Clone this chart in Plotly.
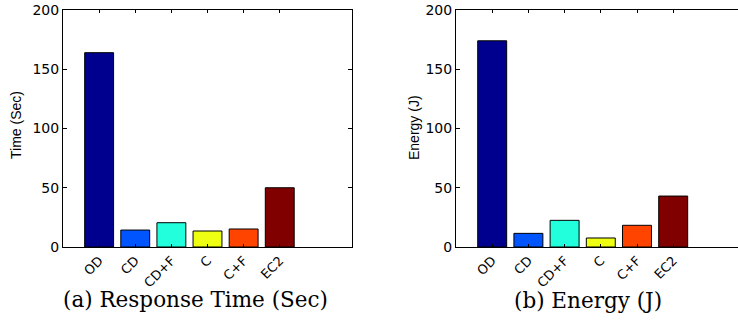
import plotly.graph_objects as go

categories = ["OD", "CD", "CD+F", "C", "C+F", "EC2"]
time_sec = [164, 14.3, 20.5, 13.5, 15.2, 50]
energy_j = [174, 11.5, 22.5, 7.6, 18.3, 43]
bar_colors = ["#00008F", "#0055FF", "#22FFDD", "#EEFF11", "#FF4400", "#800000"]
yticks = [0, 50, 100, 150, 200]
positions = [1, 2, 3, 4, 5, 6]

W, H = 738, 320


def px(x):
    return x / W


def py(y):
    return 1 - y / H


fig = go.Figure()
fig.add_trace(go.Bar(x=positions, y=time_sec, width=0.8, marker=dict(color=bar_colors, line=dict(color="black", width=1)),
                     xaxis="x", yaxis="y", showlegend=False))
fig.add_trace(go.Bar(x=positions, y=energy_j, width=0.8, marker=dict(color=bar_colors, line=dict(color="black", width=1)),
                     xaxis="x2", yaxis="y2", showlegend=False))

tickfont = dict(family="DejaVu Sans", size=14, color="black")
ydom = [py(247), py(10)]
common_x = dict(tickvals=positions, ticktext=categories, tickangle=-45, ticks="inside", ticklen=3,
                showline=True, linecolor="black", linewidth=1, showgrid=False, zeroline=False, automargin=False,
                tickfont=dict(family="DejaVu Sans", size=13, color="black"), tickcolor="black")
common_y = dict(range=[0, 200], tickvals=yticks, ticks="inside", ticklen=4, showline=True, linecolor="black",
                linewidth=1, showgrid=False, zeroline=False, tickfont=tickfont, tickcolor="black", domain=ydom,
                automargin=False)

ann_common = dict(xref="paper", yref="paper", showarrow=False, xanchor="center", yanchor="middle")
fig.update_layout(
    width=W, height=H, margin=dict(l=0, r=0, t=0, b=0, autoexpand=False),
    paper_bgcolor="white", plot_bgcolor="white",
    xaxis=dict(domain=[px(63), px(352)], range=[0, 8], mirror="ticks", anchor="y", **common_x),
    yaxis=dict(mirror="ticks", anchor="x", **common_y),
    xaxis2=dict(domain=[px(456), 1.0], range=[0, 282 / 36.2], mirror="ticks", anchor="y2", **common_x),
    yaxis2=dict(anchor="x2", **common_y),
    annotations=[
        dict(text="Time (Sec)", x=px(16), y=py(125), textangle=-90,
             font=dict(family="Liberation Sans", size=14, color="black"), **ann_common),
        dict(text="Energy (J)", x=px(414), y=py(128), textangle=-90,
             font=dict(family="Liberation Sans", size=14, color="black"), **ann_common),
        dict(text="(a) Response Time (Sec)", x=px(195), y=py(299),
             font=dict(family="DejaVu Serif", size=21.5, color="black"), **ann_common),
        dict(text="(b) Energy (J)", x=px(588), y=py(300),
             font=dict(family="DejaVu Serif", size=21.5, color="black"), **ann_common),
    ],
)
fig.write_html("out.html", config={"displayModeBar": False},
               post_script="document.body.style.margin='0';")
